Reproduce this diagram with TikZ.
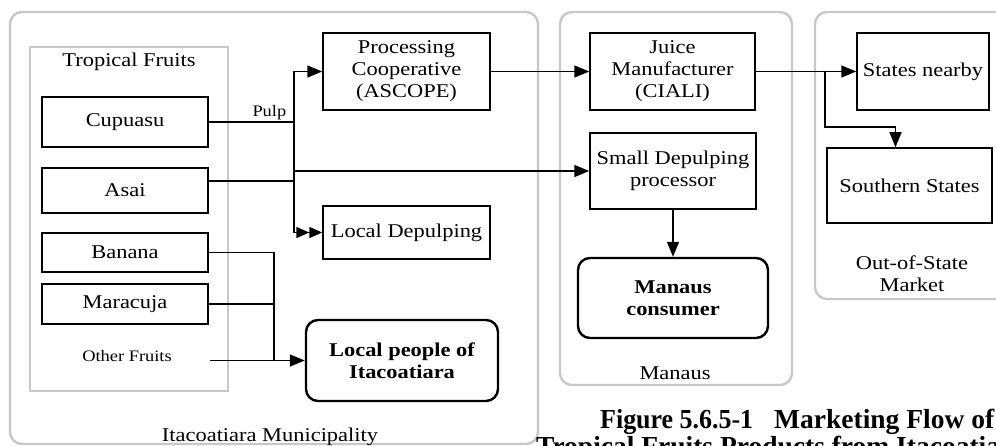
\documentclass[tikz,border=0pt]{standalone}
\usepackage{fontspec}
\usepackage{graphicx}
\setmainfont{Liberation Serif}[FakeStretch=1.15]
\newfontfamily\capfont{Liberation Serif}
\usetikzlibrary{arrows.meta}
\definecolor{frame}{RGB}{200,200,200}
\begin{document}
\begin{tikzpicture}[x=1pt,y=-1pt,
  every node/.style={font=\fontsize{19.5}{22}\selectfont, inner sep=0pt, align=center},
  box/.style={draw=black, line width=1.5pt, fill=white},
  endbox/.style={draw=black, line width=2.4pt, rounded corners=12pt, fill=white, font=\fontsize{19.5}{22}\selectfont\bfseries},
  region/.style={draw=frame, line width=2.4pt, rounded corners=12pt},
  group/.style={draw=frame, line width=2pt},
  flow/.style={line width=1.5pt},
  arr/.style={flow, -{Triangle[length=15pt,width=12pt]}},
  darr/.style={flow, -{Triangle[length=13pt,width=11pt] Triangle[length=13pt,width=11pt]}},
  small/.style={font=\fontsize{16}{18}\selectfont},
  captext/.style={anchor=base west, font=\capfont\fontsize{27.5}{30}\selectfont\bfseries}]
\clip (0,0) rectangle (996,446);

% regions
\draw[region] (10,12) rectangle (538,444);
\draw[region] (560,12) rectangle (792,385);
\draw[region] (815,12) rectangle (1012,299);
\draw[group] (30,47) rectangle (228,391);

\node (tflab) at (129,62) {Tropical Fruits};
\node[anchor=base] (mulab) at (270,441) {Itacoatiara Municipality};
\node (malab) at (675,373) {Manaus};
\node (oolab) at (912,274) {Out-of-State\\Market};

% fruits
\node[box, minimum width=166pt, minimum height=50pt] (cup) at (125,122) {Cupuasu};
\node[box, minimum width=166pt, minimum height=45pt] (asai) at (125,190.5) {Asai};
\node[box, minimum width=166pt, minimum height=39pt] (ban) at (125,252.5) {Banana};
\node[box, minimum width=166pt, minimum height=40pt] (mar) at (125,304) {Maracuja};
\node[small, minimum width=166pt, minimum height=20pt] (oth) at (127,356) {Other Fruits};

% processors and buyers
\node[box, minimum width=167pt, minimum height=77pt] (proc) at (406.5,71.5) {Processing\\Cooperative\\(ASCOPE)};
\node[box, minimum width=167pt, minimum height=53pt] (ldep) at (406.5,232.5) {Local Depulping};
\node[endbox, minimum width=192pt, minimum height=81pt] (locp) at (402,360.5) {Local people of\\Itacoatiara};
\node[box, minimum width=165pt, minimum height=77pt] (juice) at (672.5,71.5) {Juice\\Manufacturer\\(CIALI)};
\node[box, minimum width=166pt, minimum height=76pt] (sdep) at (673,171) {Small Depulping\\processor};
\node[endbox, minimum width=190pt, minimum height=80pt] (mcons) at (673,298) {Manaus\\consumer};
\node[box, minimum width=132pt, minimum height=77pt] (sn) at (923,71.5) {States nearby};
\node[box, minimum width=165pt, minimum height=75pt] (ss) at (909.5,185.5) {Southern States};

% junction points
\coordinate (tp) at (294,122);
\coordinate (ta) at (294,181);
\coordinate (ts) at (294,171);
\coordinate (tl) at (274,360.5);
\coordinate (tj) at (825,71.5);

% pulp flows
\draw[flow] (cup.east) -- node[small, pos=1, anchor=south east, xshift=-7pt, yshift=1pt] (pulp) {Pulp} (tp);
\draw[arr] (tp) |- (proc.west);
\draw[flow] ([yshift=9.5pt]asai.east) -- (ta);
\draw[flow] (tp) -- (ta);
\draw[darr] (ta) |- (ldep.west);
\draw[arr] (ts) -- (sdep.west);

% fresh fruit to local people
\draw[flow] (ban.east) -| (tl);
\draw[flow] (mar.east) -| (tl);
\draw[arr] ([yshift=-4.5pt]oth.east) -- (locp.west);

% products
\draw[arr] (proc.east) -- (juice.west);
\draw[arr] (juice.east) -- (sn.west);
\draw[arr] (tj) |- ([xshift=-14pt,yshift=20pt]ss.north) -- ([xshift=-14pt]ss.north);
\draw[arr] (sdep.south) -- (mcons.north);

% caption
\node[captext] (cap1) at (600,428) {\resizebox{153pt}{\height}{Figure 5.6.5-1}\hspace{21pt}Marketing Flow of};
\node[captext] (cap2) at (536,455) {Tropical Fruits Products from Itacoatiara};
\end{tikzpicture}
\end{document}
